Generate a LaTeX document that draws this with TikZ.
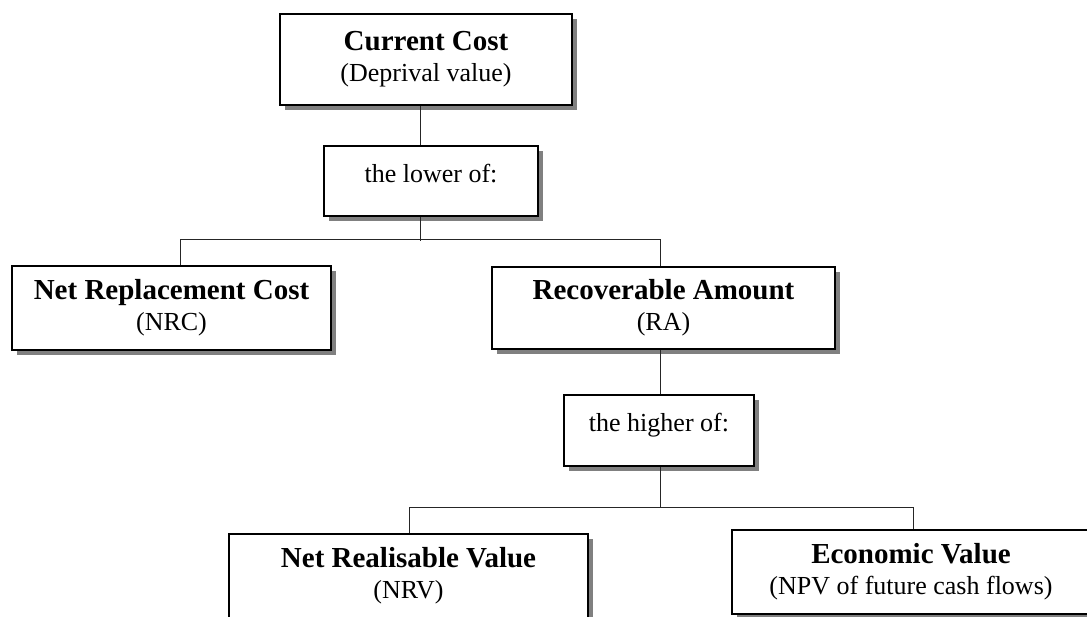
\documentclass[tikz,border=0pt]{standalone}
\usepackage{fontspec}
\setmainfont{Liberation Serif}
\usetikzlibrary{shadows}
\usepackage{xcolor}
\definecolor{shadowgray}{RGB}{128, 128, 128}

\newcommand{\titel}[1]{{\fontsize{14.5}{15.5}\selectfont\bfseries #1}}

\begin{document}
\begin{tikzpicture}[x=0.5pt, y=-0.5pt,
    font=\fontsize{13}{15.5}\selectfont,
    box/.style={draw=black, line width=1.3pt, fill=white, align=center,
        inner sep=0pt,
        drop shadow={shadow xshift=2.5pt, shadow yshift=-2.5pt,
            fill=shadowgray, opacity=1}},
    wahl/.style={box, text height=9pt, text depth=8pt},
    conn/.style={black!85, line width=0.5pt}]

    % Bildausschnitt (Seitenrand wie im Original)
    \clip (0,0) rectangle (1087,616);

    % ==========================================
    % OBERER BEREICH: CURRENT COST
    % ==========================================
    \node[box, minimum width=146pt, minimum height=45.5pt] (cc) at (426,59.5)
        {\titel{Current Cost}\\(Deprival value)};
    \node[wahl, minimum width=107pt, minimum height=35pt] (lower) at (431,181)
        {the lower of:};

    % ==========================================
    % MITTLERER BEREICH: NRC und RA
    % ==========================================
    \node[box, minimum width=159.5pt, minimum height=42pt] (nrc) at (171.5,308)
        {\titel{Net Replacement Cost}\\(NRC)};
    \node[box, minimum width=171.5pt, minimum height=41pt] (ra) at (663.5,308)
        {\titel{Recoverable Amount}\\(RA)};
    \node[wahl, minimum width=95pt, minimum height=35.5pt] (higher) at (659,430.5)
        {the higher of:};

    % ==========================================
    % UNTERER BEREICH: NRV und EV
    % ==========================================
    \node[box, minimum width=179.5pt, minimum height=42pt] (nrv) at (408.5,576)
        {\titel{Net Realisable Value}\\(NRV)};
    \node[box, minimum width=179pt, minimum height=42pt] (ev) at (911,572)
        {\titel{Economic Value}\\(NPV of future cash flows)};

    % Knickpunkte der Verbindungslinien
    \coordinate (j1) at (420,239);
    \coordinate (l1) at (180,239);
    \coordinate (r1) at (660,239);
    \coordinate (j2) at (660,507);
    \coordinate (l2) at (409,507);
    \coordinate (r2) at (913,507);

    % Verbindungen oben
    \draw[conn] (cc.south -| j1) -- (lower.north -| j1);
    \draw[conn] (lower.south -| j1) -- ([yshift=-1pt]j1);
    \draw[conn] (nrc.north -| l1) -- (l1) -- (r1) -- (ra.north -| r1);

    % Verbindungen unten
    \draw[conn] (ra.south -| r1) -- (higher.north -| r1);
    \draw[conn] (higher.south -| j2) -- (j2);
    \draw[conn] (nrv.north -| l2) -- (l2) -- (r2) -- (ev.north -| r2);

\end{tikzpicture}
\end{document}
